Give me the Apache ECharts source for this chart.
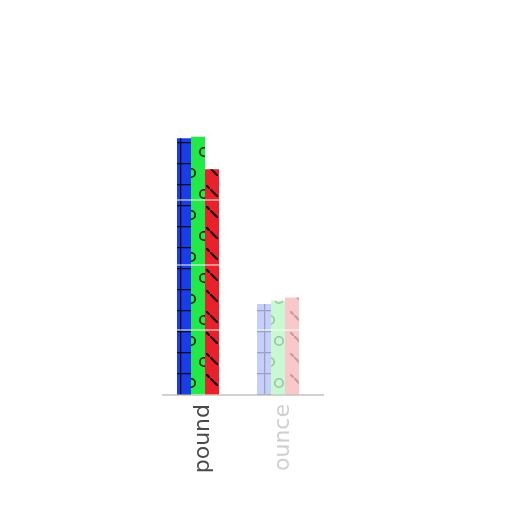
<!DOCTYPE html>
<html><head><meta charset="utf-8">
<script src="https://cdn.jsdelivr.net/npm/echarts@6/dist/echarts.min.js"></script>
<style>html,body{margin:0;background:#fff}#c{width:512px;height:512px}</style>
</head><body><div id="c"></div>
<script>
const categories = ['pound', 'ounce'];
const seriesNames = ['blue', 'green', 'red'];
const blueValues = [79, 28];
const greenValues = [79.5, 29];
const redValues = [69.5, 30];
const yTicks = [0, 20, 40, 60, 80];

const colors = ['#1a3de8', '#22e84a', '#e8222c'];
const decals = [
  { symbol: 'path://M0,16h21v1.3h-21z M12,0h1.3v21h-1.3z', symbolSize: 1, symbolKeepAspect: false,
    dashArrayX: [21, 0], dashArrayY: [21, 0], rotation: 0, color: 'rgba(0,0,0,0.85)' },
  { symbol: 'path://M0,5A5,5 0 1,1 10,5A5,5 0 1,1 0,5Z M1.6,5A3.4,3.4 0 1,0 8.4,5A3.4,3.4 0 1,0 1.6,5Z',
    symbolSize: 1, symbolKeepAspect: true,
    dashArrayX: [[0, 1, 10, 11], [0, 10, 10, 2]], dashArrayY: [10, 11], rotation: 0, color: 'rgba(0,0,0,0.9)' },
  { symbol: 'path://M0,0L1.6,0L8,6.4L8,8L6.4,8L0,1.6Z M17,17L18.6,17L21,19.4L21,21L19.4,21L17,18.6Z',
    symbolSize: 1, symbolKeepAspect: false,
    dashArrayX: [21, 0], dashArrayY: [21, 0], rotation: 0, color: 'rgba(0,0,0,0.85)' }
];
const valueSets = [blueValues, greenValues, redValues];

const series = seriesNames.map((n, s) => ({
  name: n, type: 'bar', barWidth: 14, barGap: '0%',
  itemStyle: { color: colors[s], decal: decals[s] },
  data: valueSets[s].map((v, i) => ({ value: v, itemStyle: { opacity: i === 0 ? 1 : 0.25 } }))
}));
// empty slot to the right of the group (no data)
series.push({ name: 'spacer', type: 'bar', barWidth: 10, barGap: '0%', data: [] });

const chart = echarts.init(document.getElementById('c'), null, { renderer: 'canvas' });
chart.setOption({
  animation: false,
  backgroundColor: '#fff',
  grid: { left: 163, right: 189, top: 135, bottom: 117, containLabel: false },
  xAxis: {
    type: 'category',
    data: categories,
    axisTick: { alignWithLabel: true, length: 8, lineStyle: { color: '#666' } },
    axisLine: { lineStyle: { color: '#888', width: 1.5 } },
    axisLabel: {
      rotate: 90, margin: 9, fontSize: 22, fontFamily: 'DejaVu Sans',
      color: (v, i) => (i === 0 ? '#4a4a4a' : '#cfcfcf')
    }
  },
  yAxis: {
    type: 'value', min: yTicks[0], max: yTicks[yTicks.length - 1], interval: yTicks[1] - yTicks[0],
    z: 5,
    axisLine: { show: false }, axisTick: { show: false }, axisLabel: { show: false },
    splitLine: { lineStyle: { color: 'rgba(255,255,255,0.65)', width: 1.5 } }
  },
  series: series
});
</script></body></html>
